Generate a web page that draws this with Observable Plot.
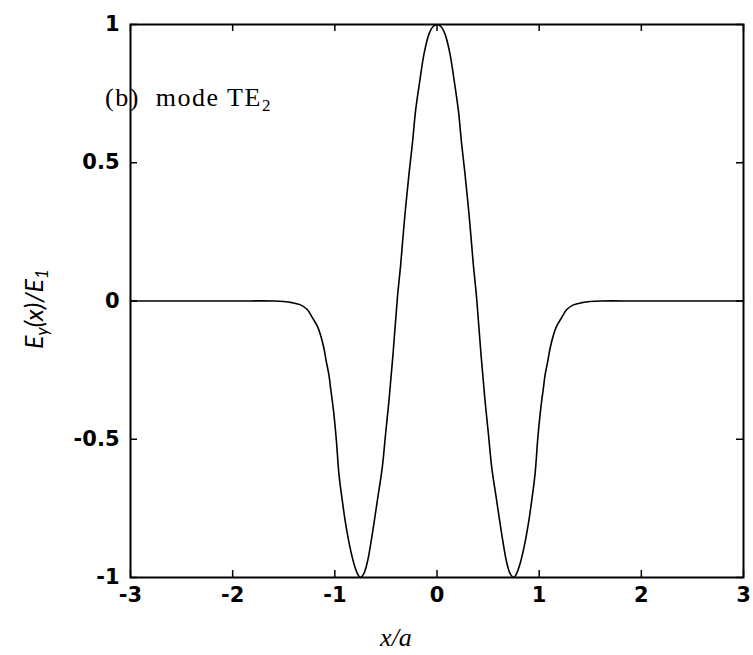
<!DOCTYPE html>
<html><head><meta charset="utf-8">
<script src="https://cdn.jsdelivr.net/npm/d3@7"></script>
<script src="https://cdn.jsdelivr.net/npm/@observablehq/plot@0.6"></script>
<style>
body{margin:0;background:#fff;}
#chart svg{display:block;}
</style></head><body><div id="chart"></div>
<script>
// x/a positions and normalized field Ey(x)/E1
const xPos = [-3, -2, -1.6, -1.5, -1.42, -1.335, -1.27, -1.22, -1.17, -1.14, -1.107, -1.083, -1.058, -1.041, -1.025, -1.009,
  -0.985, -0.96, -0.927, -0.894, -0.852, -0.813, -0.78, -0.75, -0.715, -0.682, -0.633, -0.584, -0.535, -0.503, -0.47, -0.43,
  -0.388, -0.356, -0.339, -0.307, -0.274, -0.241, -0.209, -0.167, -0.127, -0.078, -0.04, 0,
  0.04, 0.078, 0.127, 0.167, 0.209, 0.241, 0.274, 0.307, 0.339, 0.356, 0.388, 0.43, 0.47, 0.503, 0.535, 0.584, 0.633, 0.682,
  0.715, 0.75, 0.78, 0.813, 0.852, 0.894, 0.927, 0.96, 0.985, 1.009, 1.025, 1.041, 1.058, 1.083, 1.107, 1.14, 1.17, 1.22,
  1.27, 1.335, 1.42, 1.5, 1.6, 2, 3];
const field = [0, 0, 0, -0.002, -0.006, -0.014, -0.031, -0.06, -0.092, -0.123, -0.171, -0.22, -0.267, -0.316, -0.36, -0.41,
  -0.504, -0.625, -0.722, -0.806, -0.89, -0.95, -0.985, -1.0, -0.985, -0.945, -0.842, -0.722, -0.6, -0.48, -0.36, -0.19,
  0.01, 0.13, 0.205, 0.339, 0.46, 0.569, 0.69, 0.8, 0.894, 0.966, 0.992, 1.0,
  0.992, 0.966, 0.894, 0.8, 0.69, 0.569, 0.46, 0.339, 0.205, 0.13, 0.01, -0.19, -0.36, -0.48, -0.6, -0.722, -0.842, -0.945,
  -0.985, -1.0, -0.985, -0.95, -0.89, -0.806, -0.722, -0.625, -0.504, -0.41, -0.36, -0.316, -0.267, -0.22, -0.171, -0.123, -0.092, -0.06,
  -0.031, -0.014, -0.006, -0.002, 0, 0, 0];
const xTicks = [-3, -2, -1, 0, 1, 2, 3];
const yTicks = [-1, -0.5, 0, 0.5, 1];

const data = xPos.map((x, i) => ({x, y: field[i]}));
const fmt = d => String(d);

const W = 753, H = 655, mL = 130, mR = 10, mT = 24, mB = 78;
const fw = W - mL - mR, fh = H - mT - mB, tick = 7;

const plot = Plot.plot({
  width: W, height: H,
  marginLeft: mL, marginRight: mR, marginTop: mT, marginBottom: mB,
  x: {domain: [-3, 3]},
  y: {domain: [-1, 1]},
  style: {fontFamily: "DejaVu Sans", fontSize: "21px", fontWeight: "bold", color: "black", background: "white"},
  marks: [
    Plot.line(data, {x: "x", y: "y", stroke: "black", strokeWidth: 1.6, curve: "catmull-rom"}),
    // tick labels
    Plot.axisX({anchor: "bottom", ticks: xTicks, tickSize: 0, tickPadding: 10, tickFormat: fmt, label: null}),
    Plot.axisY({anchor: "left", ticks: yTicks, tickSize: 0, tickPadding: 11, tickFormat: fmt, label: null}),
    // inward ticks on all four sides
    Plot.tickX(xTicks, {x: d => d, insetTop: fh - tick, stroke: "black", strokeWidth: 1.5}),
    Plot.tickX(xTicks, {x: d => d, insetBottom: fh - tick, stroke: "black", strokeWidth: 1.5}),
    Plot.tickY(yTicks, {y: d => d, insetRight: fw - tick, stroke: "black", strokeWidth: 1.5}),
    Plot.tickY(yTicks, {y: d => d, insetLeft: fw - tick, stroke: "black", strokeWidth: 1.5}),
    Plot.frame({stroke: "black", strokeWidth: 2})
  ]
});

const svg = d3.select(plot);
// panel title
const t = svg.append("text")
  .attr("x", 105).attr("y", 106)
  .attr("text-anchor", "start")
  .attr("font-family", "Liberation Serif, Times New Roman, serif")
  .attr("font-size", 26).attr("font-weight", "normal").attr("fill", "black")
  .style("white-space", "pre").style("letter-spacing", "1.5px");
t.append("tspan").text("(b)  mode TE");
t.append("tspan").attr("font-size", 17).attr("dy", 5).text("2");

// x label
svg.append("text")
  .attr("x", 396).attr("y", 646)
  .attr("text-anchor", "middle")
  .attr("font-family", "Liberation Serif, Times New Roman, serif")
  .attr("font-style", "italic").attr("font-weight", "normal")
  .attr("font-size", 26).attr("fill", "black")
  .text("x/a");

// y label
const yl = svg.append("text")
  .attr("transform", "translate(43,309) rotate(-90)")
  .attr("text-anchor", "middle")
  .attr("font-family", "Lato, Open Sans, sans-serif")
  .attr("font-style", "italic").attr("font-weight", "normal")
  .attr("font-size", 25).attr("fill", "black");
yl.append("tspan").text("E");
yl.append("tspan").attr("font-size", 17).attr("dy", 5).text("y");
yl.append("tspan").attr("dy", -5).text("(x)/E");
yl.append("tspan").attr("font-size", 17).attr("dy", 5).text("1");

document.getElementById("chart").appendChild(plot);
</script>
</body></html>
